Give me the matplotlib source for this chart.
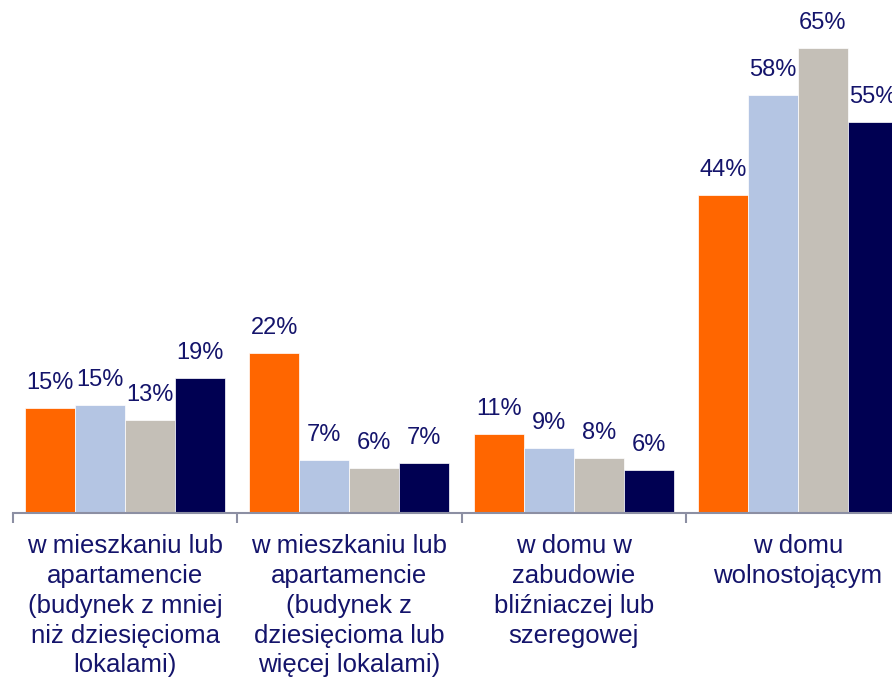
import matplotlib
matplotlib.use("Agg")
import matplotlib.pyplot as plt
import numpy as np

plt.rcParams["font.family"] = ["Liberation Sans", "DejaVu Sans"]

categories = [
    "w mieszkaniu lub\napartamencie\n(budynek z mniej\nniż dziesięcioma\nlokalami)",
    "w mieszkaniu lub\napartamencie\n(budynek z\ndziesięcioma lub\nwięcej lokalami)",
    "w domu w\nzabudowie\nbliźniaczej lub\nszeregowej",
    "w domu\nwolnostojącym",
]
series_a = [14.7, 22.4, 11.0, 44.4]
series_b = [15.1, 7.4, 9.1, 58.4]
series_c = [13.0, 6.3, 7.7, 65.0]
series_d = [18.9, 7.0, 6.0, 54.7]
labels_a = ["15%", "22%", "11%", "44%"]
labels_b = ["15%", "7%", "9%", "58%"]
labels_c = ["13%", "6%", "8%", "65%"]
labels_d = ["19%", "7%", "6%", "55%"]

colors = ["#FF6600", "#B4C5E3", "#C4BFB7", "#000052"]
text_color = "#14146B"

W, H = 892, 679
fig = plt.figure(figsize=(W / 100, H / 100), dpi=100)
left, right, bottom, top = 13, 910, 513, 12
ax = fig.add_axes([left / W, (H - bottom) / H, (right - left) / W, (bottom - top) / H])

x = np.arange(len(categories))
width = 0.223
all_series = [series_a, series_b, series_c, series_d]
all_labels = [labels_a, labels_b, labels_c, labels_d]
for i, (vals, labs) in enumerate(zip(all_series, all_labels)):
    pos = x + (i - 1.5) * width
    bars = ax.bar(pos, vals, width, color=colors[i], edgecolor="white", linewidth=0.5)
    for b, lab in zip(bars, labs):
        ax.annotate(lab, (b.get_x() + b.get_width() / 2, b.get_height()),
                    xytext=(0, 10), textcoords="offset points",
                    ha="center", va="bottom", fontsize=17, color=text_color,
                    annotation_clip=False)

ax.set_xlim(-0.5, 3.5)
ax.set_ylim(0, 70)
for s in ["top", "right", "left"]:
    ax.spines[s].set_visible(False)
ax.spines["bottom"].set_color("#8C8FA3")
ax.spines["bottom"].set_linewidth(1.5)
ax.set_yticks([])
ax.set_xticks(np.arange(-0.5, 4, 1))
ax.set_xticklabels([])
ax.tick_params(axis="x", direction="out", length=7, width=1.5, color="#8C8FA3")

for xi, cat in zip(x, categories):
    ax.annotate(cat, (xi, 0), xytext=(0, -15), textcoords="offset points",
                ha="center", va="top", fontsize=18.5, color=text_color,
                linespacing=1.31, annotation_clip=False)

fig.savefig("out.png", dpi=100)
